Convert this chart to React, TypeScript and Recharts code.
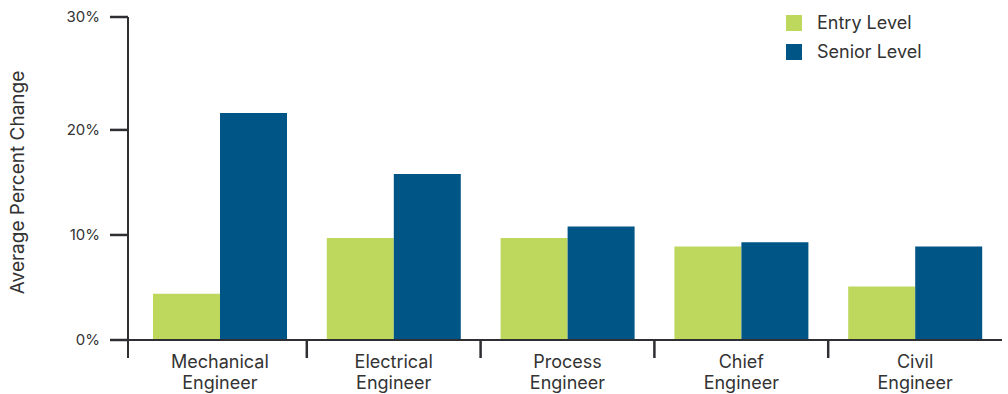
import React from "react";
import { BarChart, Bar, XAxis, YAxis } from "recharts";

const categories = ["Mechanical Engineer", "Electrical Engineer", "Process Engineer", "Chief Engineer", "Civil Engineer"];
const entryLevel = [4.4, 9.7, 9.7, 8.9, 5.1];
const seniorLevel = [21.6, 15.8, 10.8, 9.3, 8.9];
const yTicks = [0, 10, 20, 30.75];

const SERIES = [
  { key: "entry", name: "Entry Level", color: "#bdd85c" },
  { key: "senior", name: "Senior Level", color: "#005587" },
];

const WIDTH = 1008;
const HEIGHT = 394;
const PLOT_LEFT = 128;
const PLOT_RIGHT = 1002;
const PAD_LEFT = 5;
const AXIS = "#2e2e33";
const TEXT = "#333333";
const FONT = "Inter, 'Noto Sans', sans-serif";

const data = categories.map((name, i) => ({
  name,
  entry: entryLevel[i],
  senior: seniorLevel[i],
}));

const band = (PLOT_RIGHT - PLOT_LEFT - PAD_LEFT) / categories.length;

// category label in two lines plus a divider on the left edge of the band;
// the first divider continues the y axis below the baseline
function CategoryTick(props: any) {
  const { x, y, payload, index } = props;
  const words = String(payload.value).split(" ");
  const left = index === 0 ? PLOT_LEFT : x - band / 2;
  return (
    <g>
      <line
        x1={left}
        y1={y - 1}
        x2={left}
        y2={y + 18}
        stroke={AXIS}
        strokeWidth={index === 0 ? 2 : 2.5}
      />
      <text x={x} y={y} textAnchor="middle" fill={TEXT} fontSize={18} fontFamily={FONT}>
        <tspan x={x} dy={28}>{words[0]}</tspan>
        <tspan x={x} dy={21}>{words.slice(1).join(" ")}</tspan>
      </text>
    </g>
  );
}

function AxisTitle(props: any) {
  const { viewBox } = props;
  const cx = 17;
  const cy = viewBox.y + viewBox.height / 2 + 4;
  return (
    <text
      x={cx}
      y={cy}
      transform={`rotate(-90 ${cx} ${cy})`}
      textAnchor="middle"
      dominantBaseline="central"
      fill={TEXT}
      fontSize={19}
      fontFamily={FONT}
    >
      Average Percent Change
    </text>
  );
}

// legend sits over the top-right corner of the plot
function LegendBox() {
  return (
    <div style={{ position: "absolute", left: 786, top: 8, fontFamily: FONT, fontSize: 18, color: TEXT }}>
      {SERIES.map((s) => (
        <div key={s.key} style={{ display: "flex", alignItems: "center", height: 29 }}>
          <span style={{ width: 16, height: 16, background: s.color, marginRight: 15, display: "inline-block" }} />
          <span>{s.name}</span>
        </div>
      ))}
    </div>
  );
}

export default function App() {
  return (
    <div style={{ position: "absolute", left: 0, top: 0, width: WIDTH, height: HEIGHT, background: "#fff" }}>
      <BarChart
        width={WIDTH}
        height={HEIGHT}
        data={data}
        barGap={0}
        barSize={67}
        margin={{ top: 17, right: WIDTH - PLOT_RIGHT, bottom: 0, left: 0 }}
      >
        <XAxis
          dataKey="name"
          height={54}
          interval={0}
          padding={{ left: PAD_LEFT, right: 0 }}
          tickSize={0}
          tickMargin={0}
          tickLine={false}
          axisLine={{ stroke: AXIS, strokeWidth: 2 }}
          tick={<CategoryTick />}
        />
        <YAxis
          width={PLOT_LEFT}
          domain={[0, 30.75]}
          ticks={yTicks}
          interval={0}
          tickSize={18}
          tickMargin={10}
          tickLine={{ stroke: AXIS, strokeWidth: 2.5 }}
          axisLine={{ stroke: AXIS, strokeWidth: 2 }}
          tick={{ fill: TEXT, fontSize: 15, fontFamily: FONT }}
          tickFormatter={(v: number) => `${Math.round(v / 10) * 10}%`}
          label={<AxisTitle />}
        />
        {SERIES.map((s) => (
          <Bar key={s.key} dataKey={s.key} name={s.name} fill={s.color} isAnimationActive={false} />
        ))}
      </BarChart>
      <LegendBox />
    </div>
  );
}
